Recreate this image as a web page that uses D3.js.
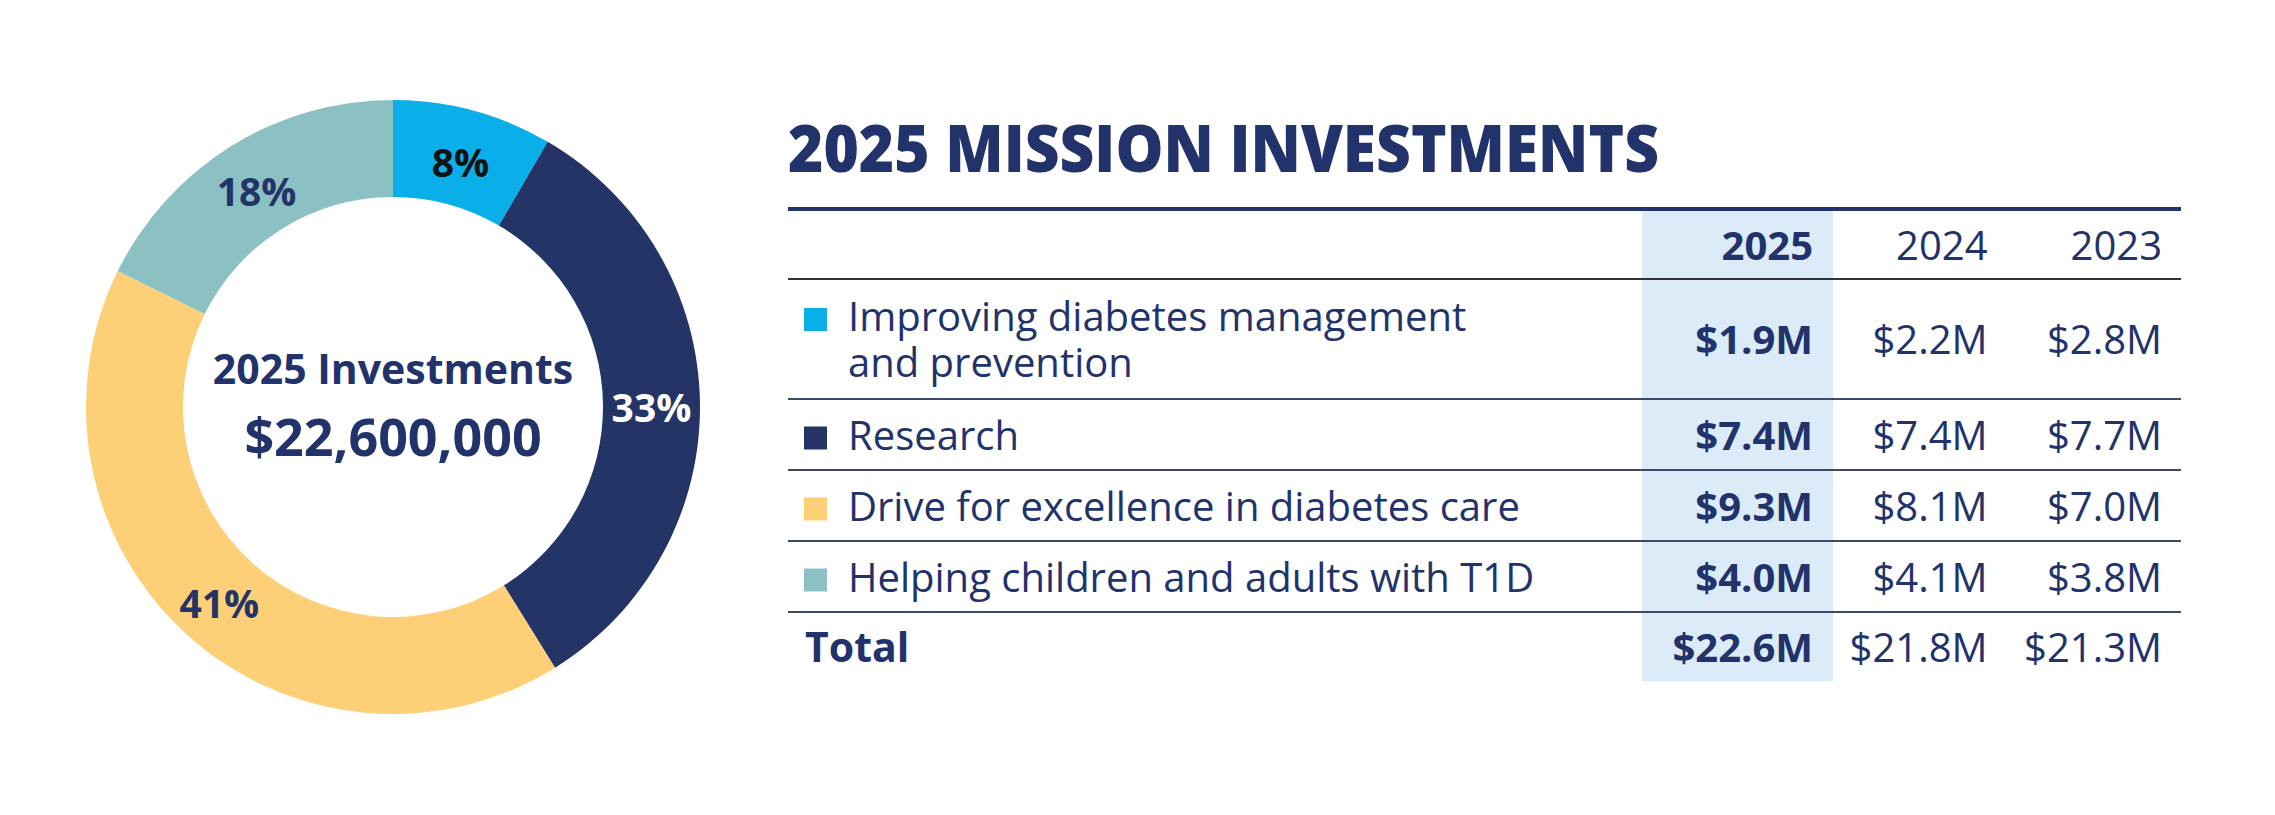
<!DOCTYPE html>
<html>
<head>
<meta charset="utf-8">
<script src="https://cdn.jsdelivr.net/npm/d3@7"></script>
<style>
  html, body { margin: 0; padding: 0; background: #ffffff; }
  svg { display: block; font-family: "Open Sans", "Noto Sans", sans-serif; }
</style>
</head>
<body>
<svg id="chart" width="2275" height="815"></svg>
<script>
// ---------- DATA ----------
const categories = [
  ["Improving diabetes management", "and prevention"],
  ["Research"],
  ["Drive for excellence in diabetes care"],
  ["Helping children and adults with T1D"]
];
const years = ["2025", "2024", "2023"];
const values2025 = [1.9, 7.4, 9.3, 4.0];
const values2024 = [2.2, 7.4, 8.1, 4.1];
const values2023 = [2.8, 7.7, 7.0, 3.8];
const totals = [22.6, 21.8, 21.3];
const sliceColors = ["#0aaee8", "#243466", "#fdd077", "#8cc1c3"];
const pctLabelColors = ["#111111", "#ffffff", "#243466", "#243466"];
const title = "2025 MISSION INVESTMENTS";
const centerTitle = "2025 Investments";
const totalLabel = "Total";

// ---------- SETUP ----------
const navy = "#22326a";
const svg = d3.select("#chart");

// ---------- DONUT ----------
const cx = 393, cy = 407, outerR = 307, innerR = 210;
const pie = d3.pie().sort(null).value(d => d);
const arcs = pie(values2025);
const arc = d3.arc().innerRadius(innerR).outerRadius(outerR);
const sum2025 = d3.sum(values2025);

const donut = svg.append("g").attr("transform", `translate(${cx},${cy})`);
donut.selectAll("path.slice")
  .data(arcs)
  .join("path")
  .attr("class", "slice")
  .attr("d", arc)
  .attr("fill", (d, i) => sliceColors[i]);

donut.selectAll("text.pct")
  .data(arcs)
  .join("text")
  .attr("class", "pct")
  .attr("x", d => arc.centroid(d)[0])
  .attr("y", d => arc.centroid(d)[1] + 5)
  .attr("text-anchor", "middle")
  .attr("dy", "0.36em")
  .attr("font-size", 39)
  .attr("font-weight", 700)
  .attr("fill", (d, i) => pctLabelColors[i])
  .text(d => Math.round(d.data / sum2025 * 100) + "%");

donut.append("text")
  .attr("x", 0).attr("y", -23)
  .attr("text-anchor", "middle")
  .attr("font-size", 41)
  .attr("font-weight", 700)
  .attr("fill", navy)
  .text(centerTitle);

donut.append("text")
  .attr("x", 0).attr("y", 49)
  .attr("text-anchor", "middle")
  .attr("font-size", 52)
  .attr("font-weight", 700)
  .attr("fill", navy)
  .text(d3.format("$,")(Math.round(totals[0] * 1e6)));

// ---------- TABLE ----------
const tableLeft = 788, tableRight = 2181;
const fmtM = v => "$" + d3.format(".1f")(v) + "M";

svg.append("text")
  .attr("x", tableLeft).attr("y", 172)
  .attr("font-size", 66)
  .attr("font-weight", 800)
  .attr("fill", navy)
  .attr("textLength", 871)
  .attr("lengthAdjust", "spacingAndGlyphs")
  .text(title);

// row geometry (derived from number of label lines)
const headerTop = 211, headerBottom = 279;
const baseRowH = 71, extraLineH = 49, lineGap = 46;
const rows = categories.map((lines, i) => ({
  lines, i,
  h: baseRowH + (lines.length - 1) * extraLineH
}));
let yAcc = headerBottom;
rows.forEach(r => { r.top = yAcc; yAcc += r.h; r.bottom = yAcc; });
const totalTop = yAcc, totalBottom = yAcc + 69;

// column positions (right edges of numbers)
const colX = d3.scalePoint().domain(years).range([1813, 2162]);
const colSeries = [values2025, values2024, values2023];

// highlight column for the current year
svg.append("rect")
  .attr("x", 1642).attr("y", headerTop)
  .attr("width", 191).attr("height", totalBottom - headerTop)
  .attr("fill", "#dcebf8");

// thick top rule
svg.append("rect")
  .attr("x", tableLeft).attr("y", 207)
  .attr("width", tableRight - tableLeft).attr("height", 4)
  .attr("fill", navy);

// header
svg.selectAll("text.year")
  .data(years)
  .join("text")
  .attr("class", "year")
  .attr("x", d => colX(d))
  .attr("y", (headerTop + headerBottom) / 2 + 15)
  .attr("text-anchor", "end")
  .attr("font-size", 40)
  .attr("font-weight", (d, i) => i === 0 ? 700 : 400)
  .attr("fill", navy)
  .text(d => d);

// rules
const ruleYs = [headerBottom, ...rows.map(r => r.bottom)];
svg.selectAll("line.rule")
  .data(ruleYs)
  .join("line")
  .attr("class", "rule")
  .attr("x1", tableLeft).attr("x2", tableRight)
  .attr("y1", d => d).attr("y2", d => d)
  .attr("stroke", (d, i) => i === 0 ? "#2f3440" : "#3f4866")
  .attr("stroke-width", 2);

// category rows
const rowG = svg.selectAll("g.row")
  .data(rows)
  .join("g")
  .attr("class", "row");

rowG.append("rect")
  .attr("x", 804)
  .attr("y", r => { const mid = (r.top + r.bottom) / 2; return mid - (r.lines.length - 1) * lineGap / 2 + 15 - 23; })
  .attr("width", 23).attr("height", 23)
  .attr("fill", r => sliceColors[r.i]);

rowG.each(function (r) {
  const g = d3.select(this);
  const mid = (r.top + r.bottom) / 2;
  const firstBase = mid - (r.lines.length - 1) * lineGap / 2 + 15;
  const label = g.append("text")
    .attr("class", "label")
    .attr("x", 848)
    .attr("y", firstBase)
    .attr("font-size", 40)
    .attr("fill", navy);
  label.selectAll("tspan")
    .data(r.lines)
    .join("tspan")
    .attr("x", 848)
    .attr("y", (d, j) => firstBase + j * lineGap)
    .text(d => d);
  g.selectAll("text.val")
    .data(years)
    .join("text")
    .attr("class", "val")
    .attr("x", y => colX(y))
    .attr("y", mid + 15)
    .attr("text-anchor", "end")
    .attr("font-size", 40)
    .attr("font-weight", (y, k) => k === 0 ? 700 : 400)
    .attr("fill", navy)
    .text((y, k) => fmtM(colSeries[k][r.i]));
});

// total row
const totalMid = (totalTop + totalBottom) / 2;
svg.append("text")
  .attr("x", 805).attr("y", totalMid + 15)
  .attr("font-size", 41)
  .attr("font-weight", 700)
  .attr("fill", navy)
  .text(totalLabel);

svg.selectAll("text.total")
  .data(years)
  .join("text")
  .attr("class", "total")
  .attr("x", d => colX(d))
  .attr("y", totalMid + 15)
  .attr("text-anchor", "end")
  .attr("font-size", 40)
  .attr("font-weight", (d, i) => i === 0 ? 700 : 400)
  .attr("fill", navy)
  .text((d, i) => fmtM(totals[i]));
</script>
</body>
</html>
